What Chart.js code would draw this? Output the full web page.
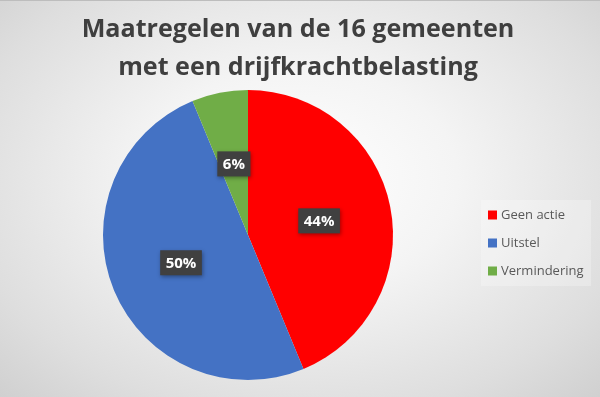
<!DOCTYPE html>
<html>
<head>
<meta charset="utf-8">
<script src="https://cdn.jsdelivr.net/npm/chart.js@4/dist/chart.umd.min.js"></script>
<style>
html,body{margin:0;padding:0;}
body{width:600px;height:397px;overflow:hidden;
background:radial-gradient(ellipse 75% 80% at 50% 45%, #ffffff 0%, #f4f4f4 35%, #dedede 75%, #cdcdcd 100%);}
#wrap{position:absolute;left:0;top:0;width:600px;height:397px;border-top:1px solid #bdbdbd;box-sizing:border-box;}
canvas{position:absolute;left:0;top:0;}
</style>
</head>
<body>
<div id="wrap"></div>
<canvas id="c" width="600" height="397"></canvas>
<script>
const titleLines = ["Maatregelen van de 16 gemeenten", "met een drijfkrachtbelasting"];
const categories = ["Geen actie", "Uitstel", "Vermindering"];
const values = [7, 8, 1];
const percentLabels = ["44%", "50%", "6%"];
const colors = ["#ff0000", "#4472c4", "#70ad47"];

const titlePlugin = {
  id: 'customTitle',
  afterDraw(chart) {
    const ctx = chart.ctx;
    ctx.save();
    let size = 26;
    const fam = '"Open Sans", sans-serif';
    ctx.font = `bold ${size}px ${fam}`;
    const w = ctx.measureText(titleLines[0]).width;
    size = size * 433 / w;
    ctx.font = `bold ${size}px ${fam}`;
    ctx.fillStyle = '#3f3f3f';
    ctx.textAlign = 'center';
    ctx.textBaseline = 'alphabetic';
    ctx.fillText(titleLines[0], 298, 37);
    ctx.fillText(titleLines[1], 298, 75);
    ctx.restore();
  }
};

const labelPlugin = {
  id: 'boxLabels',
  afterDatasetsDraw(chart) {
    const ctx = chart.ctx;
    const meta = chart.getDatasetMeta(0);
    ctx.save();
    ctx.font = 'bold 15px "Open Sans", sans-serif';
    ctx.textAlign = 'center';
    ctx.textBaseline = 'middle';
    meta.data.forEach((arc, i) => {
      const p = arc.getCenterPoint();
      const txt = percentLabels[i];
      const tw = ctx.measureText(txt).width;
      const bw = tw + 11, bh = 25;
      ctx.save();
      ctx.shadowColor = 'rgba(0,0,0,0.35)';
      ctx.shadowBlur = 4;
      ctx.shadowOffsetX = 1;
      ctx.shadowOffsetY = 2;
      ctx.fillStyle = '#404040';
      ctx.fillRect(p.x - bw / 2, p.y - bh / 2, bw, bh);
      ctx.restore();
      ctx.fillStyle = '#ffffff';
      ctx.fillText(txt, p.x, p.y + 1);
    });
    ctx.restore();
  }
};

const legendPlugin = {
  id: 'customLegend',
  afterDraw(chart) {
    const ctx = chart.ctx;
    ctx.save();
    ctx.fillStyle = 'rgba(255,255,255,0.25)';
    ctx.fillRect(481, 200, 110, 86);
    ctx.font = '13px "Open Sans", sans-serif';
    ctx.textBaseline = 'middle';
    ctx.textAlign = 'left';
    categories.forEach((c, i) => {
      const y = 215 + i * 28;
      ctx.fillStyle = colors[i];
      ctx.fillRect(488, y - 4.5, 9, 9);
      ctx.fillStyle = '#595959';
      ctx.fillText(c, 501, y);
    });
    ctx.restore();
  }
};

new Chart(document.getElementById('c'), {
  type: 'pie',
  data: {
    labels: categories,
    datasets: [{
      data: values,
      backgroundColor: colors,
      borderWidth: 0
    }]
  },
  options: {
    responsive: false,
    animation: false,
    layout: { padding: { top: 90, bottom: 17, left: 103, right: 207 } },
    plugins: {
      legend: { display: false },
      title: { display: false },
      tooltip: { enabled: false }
    }
  },
  plugins: [titlePlugin, labelPlugin, legendPlugin]
});
</script>
</body>
</html>
